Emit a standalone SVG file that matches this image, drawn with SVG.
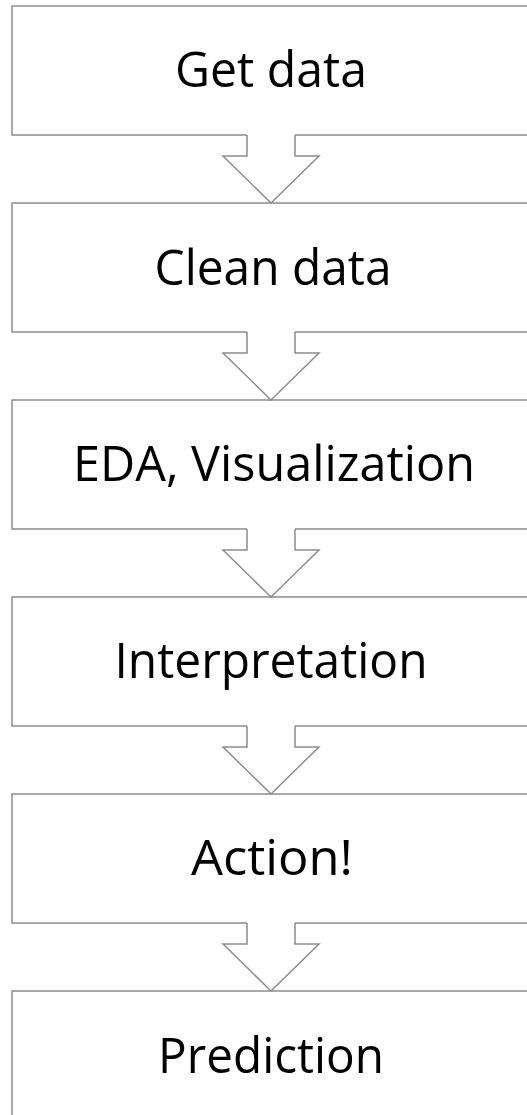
<svg xmlns="http://www.w3.org/2000/svg" width="527" height="1115" viewBox="0 0 527 1115">
<style>
.box{fill:#fff;stroke:#8c8c8c;stroke-width:1.5}
.lbl{font-family:"Open Sans","Liberation Sans",sans-serif;font-size:50px;fill:#000;text-anchor:middle}
.afill{fill:#fff;stroke:none}
.aline{fill:none;stroke:#8c8c8c;stroke-width:1.5;stroke-linejoin:miter}
</style>
<defs>
<g id="arrow">
<polygon class="afill" points="247,-2 295,-2 295,21 319,21 271,68 223,21 247,21"/>
<polyline class="aline" points="247,0 247,21 223,21 271,68 319,21 295,21 295,0"/>
</g>
</defs>
<g id="n1"><rect class="box" x="12" y="6" width="520" height="129"/><text class="lbl" x="271" y="87" textLength="192" lengthAdjust="spacingAndGlyphs">Get data</text></g>
<g id="n2"><rect class="box" x="12" y="203" width="520" height="129"/><text class="lbl" x="273" y="285" textLength="237" lengthAdjust="spacingAndGlyphs">Clean data</text></g>
<g id="n3"><rect class="box" x="12" y="400" width="520" height="129"/><text class="lbl" x="274" y="481" textLength="402" lengthAdjust="spacingAndGlyphs">EDA, Visualization</text></g>
<g id="n4"><rect class="box" x="12" y="597" width="520" height="129"/><text class="lbl" x="271" y="678" textLength="313" lengthAdjust="spacingAndGlyphs">Interpretation</text></g>
<g id="n5"><rect class="box" x="12" y="794" width="520" height="129"/><text class="lbl" x="272" y="875" textLength="162" lengthAdjust="spacingAndGlyphs">Action!</text></g>
<g id="n6"><rect class="box" x="12" y="991" width="520" height="140"/><text class="lbl" x="271" y="1073" textLength="226" lengthAdjust="spacingAndGlyphs">Prediction</text></g>
<g id="connectors">
<use href="#arrow" transform="translate(0,135)"/>
<use href="#arrow" transform="translate(0,332)"/>
<use href="#arrow" transform="translate(0,529)"/>
<use href="#arrow" transform="translate(0,726)"/>
<use href="#arrow" transform="translate(0,923)"/>
</g>
</svg>
